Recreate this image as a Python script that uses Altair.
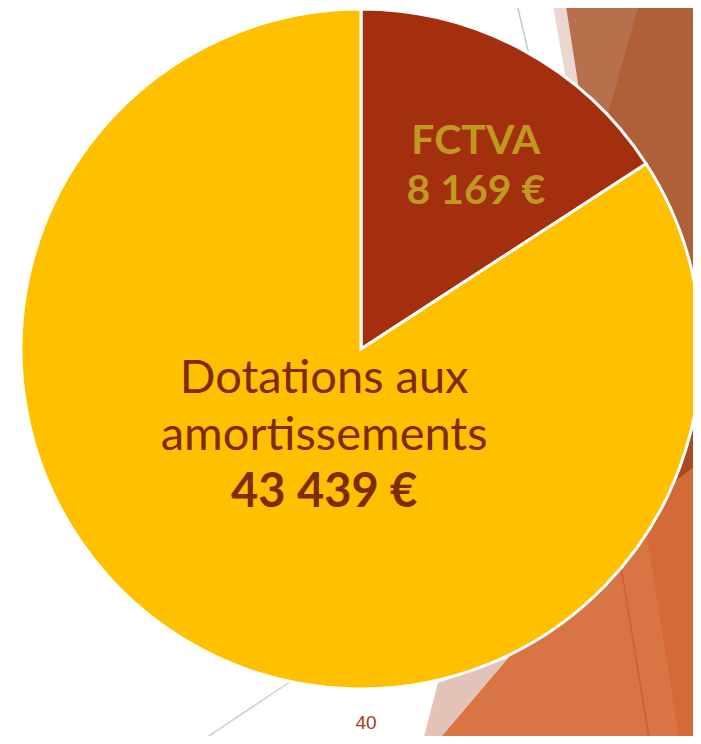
import altair as alt
import pandas as pd

# ---- data ----
categories = ["FCTVA", "Dotations aux amortissements"]
values = [8169, 43439]
value_labels = ["8 169 €", "43 439 €"]
slice_colors = ["#A32F0F", "#FFC000"]
page_number = "40"

# ---- decorative slide background (theme facets), image pixel coordinates ----
bg_polygons = [
    ([[552, 0], [565, 0], [605, 160], [580, 160]], "#EBD7D2"),
    ([[565, 0], [640, 0], [600, 160], [590, 160]], "#B8704C"),
    ([[640, 0], [701, 0], [701, 440], [640, 320], [595, 160]], "#B06038"),
    ([[701, 410], [701, 520], [650, 470]], "#A84A22"),
    ([[435, 744], [508, 658], [640, 510], [701, 470], [701, 744]], "#D97545"),
    ([[642, 505], [701, 462], [701, 744], [680, 744]], "#D36A37"),
    ([[701, 640], [701, 744], [692, 744]], "#E5704A"),
    ([[422, 744], [438, 683], [508, 658], [435, 744]], "#E3C3B8"),
]
bg_lines = [
    ([[620, 560], [650, 744]], "#C8622F"),
    ([[516, 0], [535, 80]], "#C8C8C8"),
    ([[197, 744], [300, 675]], "#CFCFCF"),
]

poly_features = [
    {"type": "Feature",
     "geometry": {"type": "Polygon", "coordinates": [pts + [pts[0]]]},
     "properties": {"color": col}}
    for pts, col in bg_polygons
]
line_features = [
    {"type": "Feature",
     "geometry": {"type": "LineString", "coordinates": pts},
     "properties": {"color": col}}
    for pts, col in bg_lines
]

W, H = 685, 728

bg_poly = alt.Chart(alt.Data(values=poly_features)).mark_geoshape(
    strokeWidth=0
).encode(
    fill=alt.Fill("properties.color:N", scale=None)
).project(type="identity", scale=1, translate=[-8, -8])

bg_line = alt.Chart(alt.Data(values=line_features)).mark_geoshape(
    filled=False, strokeWidth=1.5
).encode(
    stroke=alt.Stroke("properties.color:N", scale=None)
).project(type="identity", scale=1, translate=[-8, -8])

df = pd.DataFrame({
    "cat": categories,
    "value": values,
    "label": value_labels,
    "order": list(range(len(categories))),
})

CX, CY = 361 - 8, 349 - 8

base = alt.Chart(df).encode(
    theta=alt.Theta("value:Q", stack=True),
    order=alt.Order("order:Q"),
    x=alt.value(CX),
    y=alt.value(CY),
)

pie = base.mark_arc(outerRadius=340, stroke="white", strokeWidth=3).encode(
    color=alt.Color("cat:N", scale=alt.Scale(domain=categories, range=slice_colors), legend=None)
)

def label_layer(expr, radius, dx, dy, size, weight, color):
    return base.transform_calculate(t=expr).mark_text(
        radius=radius, dx=dx, dy=dy, fontSize=size, fontWeight=weight,
        font="Lato", color=color, align="center", baseline="alphabetic"
    ).encode(text="t:N")

gold = "#BF9A1E"
brown = "#7E2B0B"

l1 = label_layer("datum.cat == 'FCTVA' ? 'FCTVA' : ''", 222, 9, 0, 41, "bold", gold)
l2 = label_layer("datum.cat == 'FCTVA' ? datum.label : ''", 222, 9, 50, 41, "bold", gold)
l3 = label_layer("datum.cat == 'FCTVA' ? '' : 'Dotations aux'", 115, 18, -57, 47, "normal", brown)
l4 = label_layer("datum.cat == 'FCTVA' ? '' : 'amortissements'", 115, 18, 0, 47, "normal", brown)
l5 = label_layer("datum.cat == 'FCTVA' ? '' : datum.label", 115, 18, 57, 47, "bold", brown)

page = alt.Chart(pd.DataFrame({"p": [page_number]})).mark_text(
    font="Liberation Sans", fontSize=19, color="#A3391C", align="center", baseline="alphabetic"
).encode(text="p:N", x=alt.value(366 - 8), y=alt.value(721))

chart = alt.layer(bg_poly, bg_line, pie, l1, l2, l3, l4, l5, page).properties(
    width=W, height=H, padding=0, autosize=alt.AutoSizeParams(type="none"),
    background="white"
).configure_view(stroke=None)

chart.save("out.html", embed_options={"renderer": "svg", "actions": False})
